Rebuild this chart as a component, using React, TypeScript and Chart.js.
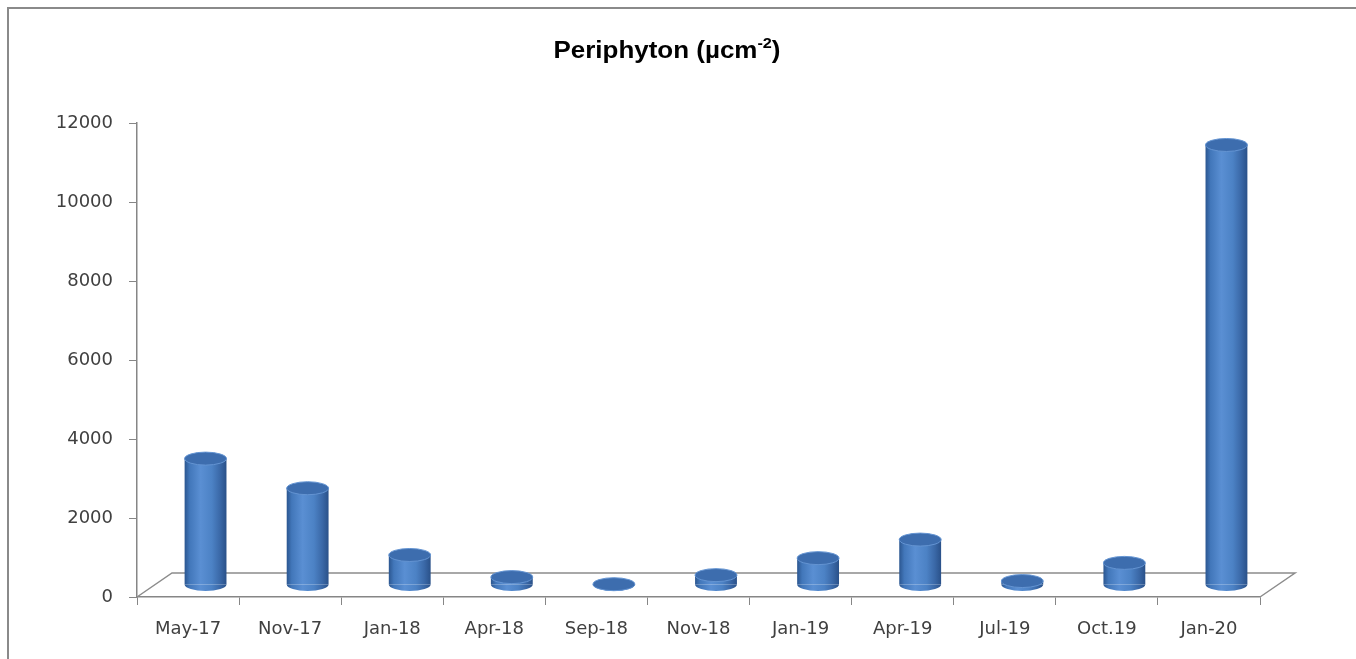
import React, { useEffect, useRef } from "react";
import { Chart, registerables } from "chart.js";

Chart.register(...registerables);

const categories = ["May-17", "Nov-17", "Jan-18", "Apr-18", "Sep-18", "Nov-18", "Jan-19", "Apr-19", "Jul-19", "Oct.19", "Jan-20"];
const periphyton = [3200, 2450, 760, 200, 20, 250, 680, 1150, 100, 560, 11140];
const yTicks = [0, 2000, 4000, 6000, 8000, 10000, 12000];
const titleMain = "Periphyton (µcm";
const titleSup = "-2";
const titleEnd = ")";

const DX = 17.5;
const DY = -12;
const RY = 6.5;
const BAR_PCT = 0.41;

function cylGrad(ctx: CanvasRenderingContext2D, x0: number, x1: number) {
  const g = ctx.createLinearGradient(x0, 0, x1, 0);
  g.addColorStop(0, "#2B5690");
  g.addColorStop(0.12, "#4277BA");
  g.addColorStop(0.38, "#5A8FD3");
  g.addColorStop(0.65, "#4C82C5");
  g.addColorStop(0.85, "#3A68A7");
  g.addColorStop(1, "#2A5189");
  return g;
}

const cylinderPlugin = {
  id: "cylinderPlugin",
  beforeDraw(chart: any) {
    const ctx = chart.ctx as CanvasRenderingContext2D;
    ctx.save();
    ctx.strokeStyle = "#8a8a8a";
    ctx.lineWidth = 2;
    ctx.beginPath();
    ctx.moveTo(8, chart.height);
    ctx.lineTo(8, 8);
    ctx.lineTo(chart.width, 8);
    ctx.stroke();
    const big = "bold 24px 'Liberation Sans', Arial, sans-serif";
    const small = "bold 15px 'Liberation Sans', Arial, sans-serif";
    ctx.font = big;
    const w1 = ctx.measureText(titleMain).width;
    const w3 = ctx.measureText(titleEnd).width;
    ctx.font = small;
    const w2 = ctx.measureText(titleSup).width;
    const total = w1 + w2 + w3;
    const target = 227;
    const sx = target / total;
    const cx = 667;
    ctx.translate(cx - target / 2, 0);
    ctx.scale(sx, 1);
    ctx.fillStyle = "#000";
    ctx.textBaseline = "alphabetic";
    ctx.textAlign = "left";
    ctx.font = big;
    ctx.fillText(titleMain, 0, 58);
    ctx.font = small;
    ctx.fillText(titleSup, w1, 48);
    ctx.font = big;
    ctx.fillText(titleEnd, w1 + w2, 58);
    ctx.restore();
  },
  beforeDatasetsDraw(chart: any) {
    const ctx = chart.ctx as CanvasRenderingContext2D;
    const { left, right, bottom } = chart.chartArea;
    ctx.save();
    ctx.strokeStyle = "#8c8c8c";
    ctx.lineWidth = 1.5;
    ctx.beginPath();
    ctx.moveTo(left, bottom);
    ctx.lineTo(left + 2 * DX, bottom + 2 * DY);
    ctx.lineTo(right + 2 * DX, bottom + 2 * DY);
    ctx.lineTo(right, bottom);
    ctx.stroke();
    ctx.restore();
    ctx.save();
    ctx.translate(DX, DY);
  },
  afterDatasetsDraw(chart: any) {
    const ctx = chart.ctx as CanvasRenderingContext2D;
    const meta = chart.getDatasetMeta(0);
    meta.data.forEach((el: any) => {
      const p = el.getProps(["x", "y", "base", "width"], true);
      const rx = p.width / 2;
      ctx.beginPath();
      ctx.ellipse(p.x, p.base, rx, RY, 0, 0, Math.PI);
      ctx.closePath();
      ctx.fillStyle = cylGrad(ctx, p.x - rx, p.x + rx);
      ctx.fill();
      ctx.beginPath();
      ctx.ellipse(p.x, p.y, rx, RY, 0, 0, Math.PI * 2);
      ctx.fillStyle = "#3D6DAE";
      ctx.fill();
      ctx.strokeStyle = "#6494D2";
      ctx.lineWidth = 1;
      ctx.stroke();
    });
    ctx.restore();
  },
};

export default function App() {
  const ref = useRef<HTMLCanvasElement>(null);
  useEffect(() => {
    if (!ref.current) return;
    const chart = new Chart(ref.current, {
      type: "bar",
      data: {
        labels: categories,
        datasets: [
          {
            label: "Periphyton",
            data: periphyton,
            borderWidth: 0,
            barPercentage: BAR_PCT,
            categoryPercentage: 1,
            clip: false as any,
            backgroundColor: (c: any) => {
              const ch = c.chart;
              const xs = ch.scales && ch.scales.x;
              if (!ch.chartArea || !xs || c.dataIndex === undefined) return "#4A7EBB";
              const cx = xs.getPixelForValue(c.dataIndex);
              const w = (xs.width / categories.length) * BAR_PCT;
              return cylGrad(ch.ctx, cx - w / 2, cx + w / 2);
            },
          },
        ],
      },
      options: {
        responsive: false,
        animation: false,
        layout: { padding: { top: 123, right: 96, left: 0, bottom: 0 } },
        plugins: {
          legend: { display: false },
          title: { display: false },
          tooltip: { enabled: false },
        },
        scales: {
          x: {
            offset: true,
            grid: { display: true, drawOnChartArea: false, drawTicks: true, tickLength: 8, color: "#868686", offset: true },
            border: { display: true, color: "#868686", width: 1.5 },
            ticks: { font: { family: "'DejaVu Sans', sans-serif", size: 18 }, color: "#404040", padding: 14, maxRotation: 0 },
            afterFit: (s: any) => { s.height = 62; },
          },
          y: {
            min: 0,
            max: 12000,
            afterBuildTicks: (s: any) => { s.ticks = yTicks.map((v) => ({ value: v })); },
            grid: { display: true, drawOnChartArea: false, drawTicks: true, tickLength: 8, color: "#868686" },
            border: { display: true, color: "#868686", width: 1.5 },
            ticks: {
              font: { family: "'DejaVu Sans', sans-serif", size: 18 },
              color: "#404040",
              padding: 16,
              callback: (v: any) => String(v),
            },
            afterFit: (s: any) => { s.width = 137; },
          },
        },
      },
      plugins: [cylinderPlugin],
    });
    return () => chart.destroy();
  }, []);
  return (
    <div style={{ position: "fixed", left: 0, top: 0, width: 1356, height: 659, background: "#fff" }}>
      <canvas ref={ref} width={1356} height={659} style={{ display: "block" }} />
    </div>
  );
}
